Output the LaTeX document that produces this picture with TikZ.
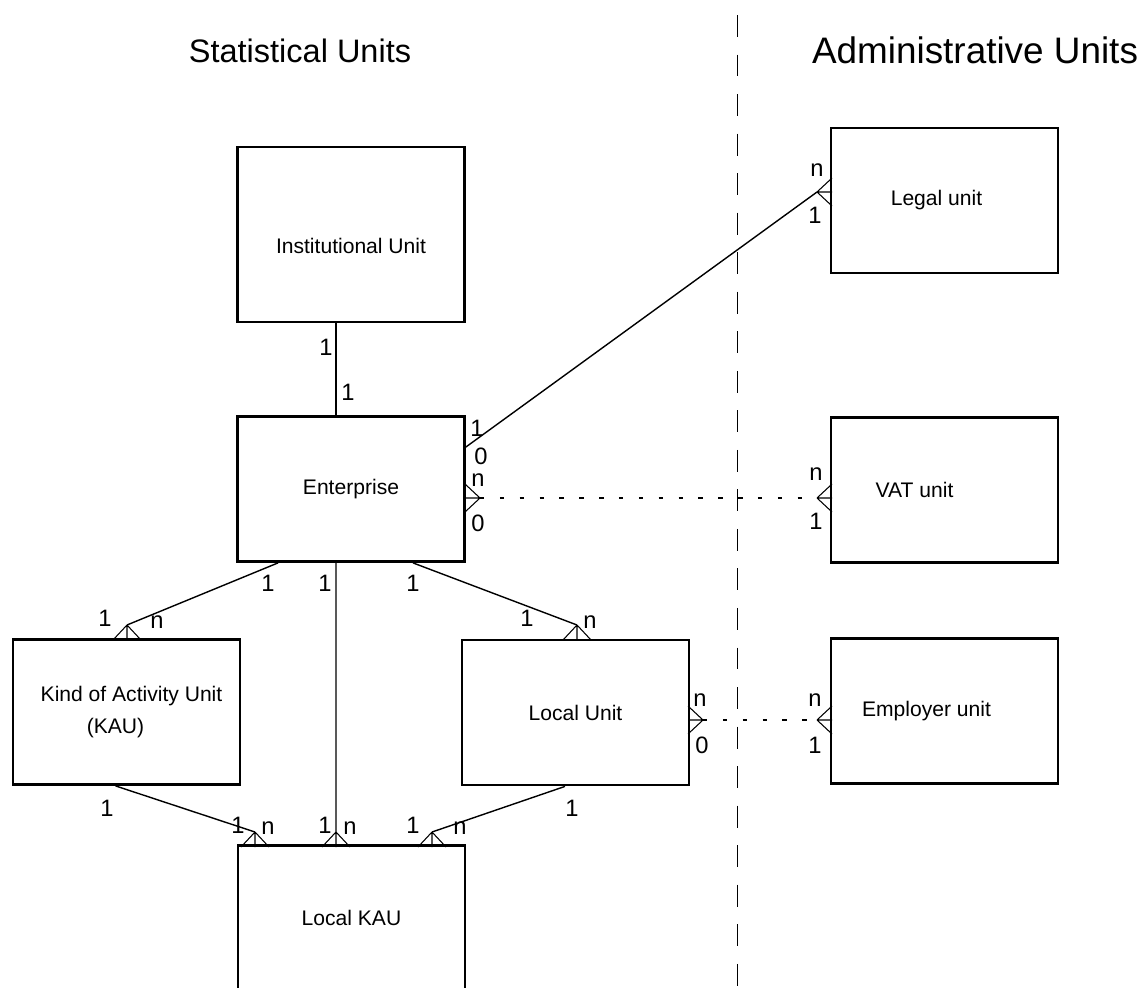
\documentclass[tikz,border=0pt]{standalone}
\usepackage{fontspec}
\setmainfont{Liberation Sans}

\tikzset{
  unitbox/.style={draw, line width=1.6pt, minimum width=4.54cm, minimum height=2.9cm,
    align=center, font=\fontsize{12}{18.7}\selectfont},
  card/.style={font=\fontsize{13.5}{14}\selectfont, inner sep=0pt},
  link/.style={line width=0.8pt},
  thinlink/.style={line width=0.6pt},
  dotlink/.style={line width=0.8pt, dash pattern=on 2.5pt off 8.8pt},
  crowfoot/.pic={\draw[line width=0.6pt] (0,0) -- (15,14) (0,0) -- (15,-14) (0,0) -- (15,0);}
}

\begin{document}
\begin{tikzpicture}[x=0.02cm, y=-0.02cm]
  \useasboundingbox (0,0) rectangle (1145,987);

  \node[font=\fontsize{18.5}{20}\selectfont, anchor=base] (stat) at (300,62) {Statistical Units};
  \node[font=\fontsize{21}{22}\selectfont, anchor=base] (admin) at (975,63) {Administrative Units};

  \draw[line width=0.5pt, dash pattern=on 12.5pt off 10pt] (737,15) -- (737,987);

  % statistical units
  \node[unitbox, minimum height=3.5cm, text height=0.83cm, text depth=0.08cm] (inst) at (351,234.5) {Institutional Unit};
  \node[unitbox] (ent) at (351,489) {Enterprise};
  \node[unitbox] (kau) at (126.5,712) {\hspace*{0.2cm}Kind of Activity Unit\\(KAU)\hspace*{0.44cm}};
  \node[unitbox] (local) at (575.5,712.5) {Local Unit};
  \node[unitbox] (lkau) at (351.5,918) {Local KAU};

  % administrative units
  \node[unitbox] (legal) at (944.5,200.5) {Legal unit\hspace*{0.32cm}};
  \node[unitbox] (vat) at (944.5,490) {VAT unit\hspace*{1.2cm}};
  \node[unitbox] (employer) at (944.5,711) {Employer unit\hspace*{0.72cm}};

  % crow's feet
  \coordinate (legal-f) at (817,192);
  \coordinate (vat-f) at (817,498);
  \coordinate (employer-f) at (817,720);
  \coordinate (ent-r) at (480,498);
  \coordinate (local-r) at (703,720);
  \coordinate (kau-t) at (127,625);
  \coordinate (local-t) at (577,625);
  \coordinate (lkau-f1) at (255,832);
  \coordinate (lkau-f2) at (336,832);
  \coordinate (lkau-f3) at (432,832);
  \foreach \c/\r in {legal-f/0, vat-f/0, employer-f/0, ent-r/180, local-r/180,
                     kau-t/-90, local-t/-90, lkau-f1/-90, lkau-f2/-90, lkau-f3/-90}
    \pic[rotate=\r] at (\c) {crowfoot};

  % relations
  \draw[thinlink] ([xshift=-0.3cm]inst.south) -- ([xshift=-0.3cm]ent.north);
  \draw[link] ([yshift=0.84cm]ent.east) -- (legal-f);
  \draw[dotlink] (ent-r) -- (vat-f);
  \draw[dotlink] (local-r) -- (employer-f);
  \draw[link] ([xshift=-1.46cm]ent.south) -- (kau-t);
  \draw[thinlink] ([xshift=-0.3cm]ent.south) -- (lkau-f2);
  \draw[link] ([xshift=1.24cm]ent.south) -- (local-t);
  \draw[link] ([xshift=-0.22cm]kau.south) -- (lkau-f1);
  \draw[link] ([xshift=-0.21cm]local.south) -- (lkau-f3);

  % cardinalities
  \foreach \x/\y/\t [count=\i] in {326/347/1, 348/392/1, 817/170/n, 815/215/1,
      477/428/1, 481/456/0, 478/480/n, 478/523/0, 816/474/n, 816/521/1,
      105/618/1, 157/622/n, 527/618/1, 590/622/n, 268/583/1, 325/583/1, 413/583/1,
      700/700/n, 702/745/0, 815/700/n, 815/745/1, 107/808/1, 572/808/1,
      238/825/1, 268/828/n, 325/825/1, 350/828/n, 413/825/1, 460/828/n}
    \node[card] (c\i) at (\x,\y) {\t};

\end{tikzpicture}
\end{document}
